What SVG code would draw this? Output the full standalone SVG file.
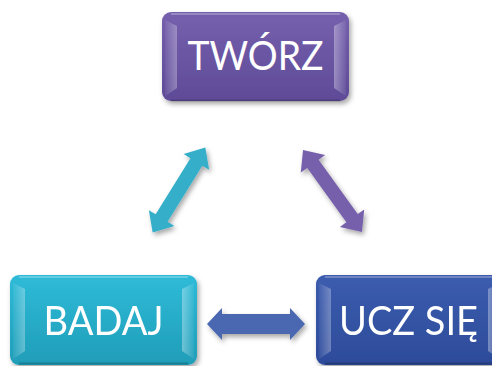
<svg xmlns="http://www.w3.org/2000/svg" width="492" height="366" viewBox="0 0 492 366">
  <defs>
    <filter id="shadow" x="-20%" y="-20%" width="140%" height="150%">
      <feDropShadow dx="2" dy="3" stdDeviation="2.5" flood-color="#000" flood-opacity="0.35"/>
    </filter>
    <linearGradient id="gPurple" x1="0" y1="0" x2="0" y2="1">
      <stop offset="0" stop-color="#7560ad"/>
      <stop offset="1" stop-color="#5f4b98"/>
    </linearGradient>
    <linearGradient id="gCyan" x1="0" y1="0" x2="0" y2="1">
      <stop offset="0" stop-color="#2fbbd8"/>
      <stop offset="1" stop-color="#1f9db8"/>
    </linearGradient>
    <linearGradient id="gBlue" x1="0" y1="0" x2="0" y2="1">
      <stop offset="0" stop-color="#3c5cae"/>
      <stop offset="1" stop-color="#2d4b9a"/>
    </linearGradient>
    <linearGradient id="facetL" x1="0" y1="0" x2="1" y2="0">
      <stop offset="0" stop-color="#fff" stop-opacity="0.05"/>
      <stop offset="1" stop-color="#fff" stop-opacity="0.3"/>
    </linearGradient>
    <linearGradient id="facetR" x1="0" y1="0" x2="1" y2="0">
      <stop offset="0" stop-color="#fff" stop-opacity="0.35"/>
      <stop offset="1" stop-color="#fff" stop-opacity="0.05"/>
    </linearGradient>
    <!-- bevel overlay for a 187x90 box -->
    <g id="bevel">
      <path d="M3,8 L15,14 L15,76 L3,84 Z" fill="url(#facetL)"/>
      <path d="M172,14 L184,8 L184,84 L172,76 Z" fill="url(#facetR)"/>
      <path d="M9,2 H178" stroke="#fff" stroke-opacity="0.35" stroke-width="1.5" fill="none"/>
      <path d="M9,88.5 H178" stroke="#000" stroke-opacity="0.2" stroke-width="2" fill="none"/>
    </g>
  </defs>
  <style>
    .label { font-family: "Lato", "Liberation Sans", sans-serif; font-size: 41px; fill: #ffffff; text-anchor: middle; }
    .box { filter: url(#shadow); }
  </style>

  <!-- connectors -->
  <g id="connectors" filter="url(#shadow)">
    <!-- BADAJ <-> TWÓRZ -->
    <path transform="translate(179,190) rotate(-58.2)" fill="#35afc9"
          d="M-50,0 L-33,-15 L-33,-7 L33,-7 L33,-15 L50,0 L33,15 L33,7 L-33,7 L-33,15 Z"/>
    <!-- TWÓRZ <-> UCZ SIĘ -->
    <path transform="translate(332.5,191) rotate(54.3)" fill="#7760ab"
          d="M-50.5,0 L-33.5,-15 L-33.5,-7 L33.5,-7 L33.5,-15 L50.5,0 L33.5,15 L33.5,7 L-33.5,7 L-33.5,15 Z"/>
    <!-- BADAJ <-> UCZ SIĘ -->
    <path fill="#4a67b1"
          d="M207,324 L222,308 L222,314 L290,314 L290,308 L305,324 L290,340 L290,334 L222,334 L222,340 Z"/>
  </g>

  <g id="node-tworz">
    <rect class="box" x="162" y="12" width="187" height="89" rx="9" fill="url(#gPurple)"/>
    <use href="#bevel" transform="translate(162,12)"/>
    <text class="label" x="255.5" y="70" textLength="136" lengthAdjust="spacingAndGlyphs">TWÓRZ</text>
  </g>

  <g id="node-badaj">
    <rect class="box" x="10" y="275" width="187" height="90" rx="9" fill="url(#gCyan)"/>
    <use href="#bevel" transform="translate(10,275)"/>
    <text class="label" x="103.5" y="335" textLength="120" lengthAdjust="spacingAndGlyphs">BADAJ</text>
  </g>

  <g id="node-ucz-sie">
    <rect class="box" x="316" y="275" width="187" height="90" rx="9" fill="url(#gBlue)"/>
    <use href="#bevel" transform="translate(316,275)"/>
    <text class="label" x="408.5" y="335" textLength="139" lengthAdjust="spacingAndGlyphs">UCZ SIĘ</text>
  </g>
</svg>
